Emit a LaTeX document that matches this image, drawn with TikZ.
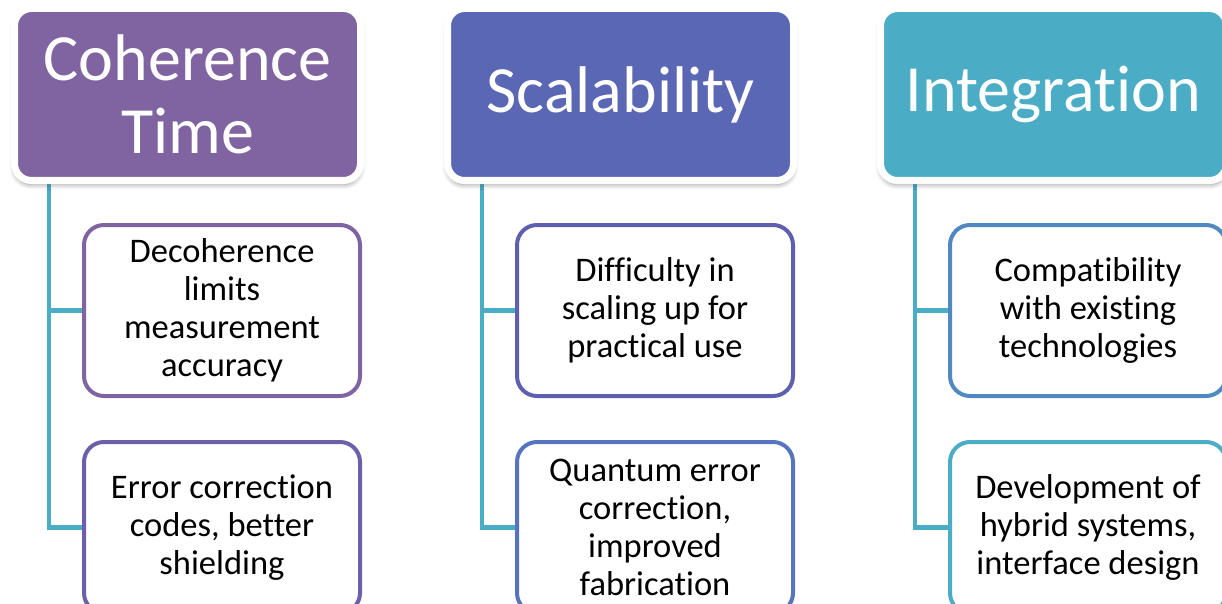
\documentclass[tikz,border=0pt]{standalone}
\usepackage{fontspec}
\setmainfont{Carlito}[Ligatures={NoCommon}]
\usetikzlibrary{shadows.blur,backgrounds,calc}

\definecolor{hdrA}{HTML}{8064A2}
\definecolor{hdrB}{HTML}{5A67B4}
\definecolor{hdrC}{HTML}{4BACC6}
\definecolor{boxA}{HTML}{8064A2}
\definecolor{boxB}{HTML}{6D5FAA}
\definecolor{boxC}{HTML}{5E60AF}
\definecolor{boxD}{HTML}{5675BE}
\definecolor{boxE}{HTML}{4F89C0}
\definecolor{boxF}{HTML}{4BACC6}
\definecolor{linkcol}{HTML}{4BACC6}

\tikzset{
  hdr/.style={rounded corners=17pt, draw=white, line width=7pt, fill=#1,
    minimum width=346pt, minimum height=172pt, text=white, align=center,
    inner sep=0pt, font=\fontsize{66}{73}\selectfont,
    blur shadow={shadow xshift=0pt, shadow yshift=-4pt,
      shadow blur radius=5pt, shadow opacity=45}},
  item/.style={rounded corners=20pt, draw=#1, line width=4pt, fill=white,
    minimum width=276pt, minimum height=171pt, text=black, align=center,
    inner sep=0pt, font=\fontsize{34.5}{38}\selectfont},
  link/.style={draw=linkcol, line width=4.5pt}
}

\begin{document}
\begin{tikzpicture}[x=1pt,y=-1pt]
\clip (0,0) rectangle (1222,604);

% category headers
\node[hdr=hdrA] (h1) at (187.5,94.5) {Coherence\\Time};
\node[hdr=hdrB] (h2) at (620.5,94.5) {Scalability};
\node[hdr=hdrC] (h3) at (1053.5,94.5) {Integration};

% detail boxes
\node[item=boxA] (c11) at (222,310.5) {Decoherence\\limits\\measurement\\accuracy};
\node[item=boxB] (c12) at (222,527.5) {Error correction\\codes, better\\shielding};
\node[item=boxC] (c21) at (655,310.5) {Difficulty in\\scaling up for\\practical use};
\node[item=boxD] (c22) at (655,527.5) {Quantum error\\correction,\\improved\\fabrication};
\node[item=boxE] (c31) at (1088,310.5) {Compatibility\\with existing\\technologies};
\node[item=boxF] (c32) at (1088,527.5) {Development of\\hybrid systems,\\interface design};

% connectors behind the boxes
\begin{scope}[on background layer]
\foreach \h/\a/\b in {h1/c11/c12, h2/c21/c22, h3/c31/c32}{
  \coordinate (\h-top) at ($(\h.south west)+(38,0)$);
  \draw[link] (\h-top) |- (\b.west);
  \draw[link] (\h-top |- \a.west) -- (\a.west);
}
\end{scope}
\end{tikzpicture}
\end{document}
